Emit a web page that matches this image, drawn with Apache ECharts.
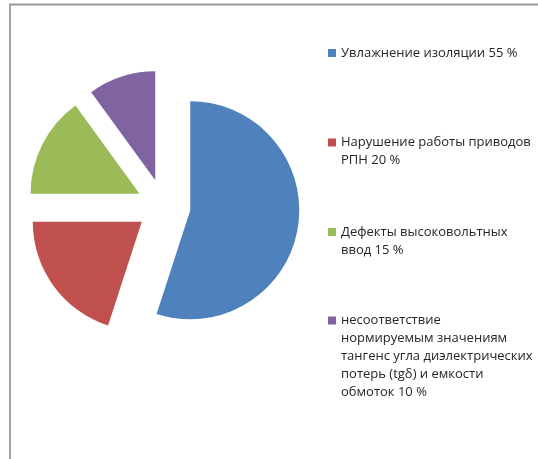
<!DOCTYPE html>
<html>
<head>
<meta charset="utf-8">
<script src="https://cdn.jsdelivr.net/npm/echarts@6/dist/echarts.min.js"></script>
<style>
html,body{margin:0;padding:0;background:#fff;}
#chart{width:538px;height:459px;}
</style>
</head>
<body>
<div id="chart"></div>
<script>
// Data
var categories = [
  'Увлажнение изоляции 55 %',
  'Нарушение работы приводов РПН 20 %',
  'Дефекты высоковольтных ввод 15 %',
  'несоответствие нормируемым значениям тангенс угла диэлектрических потерь (tgδ) и емкости обмоток 10 %'
];
var values = [55, 20, 15, 10];
var legendLines = [
  ['Увлажнение изоляции 55 %'],
  ['Нарушение работы приводов', 'РПН 20 %'],
  ['Дефекты высоковольтных', 'ввод 15 %'],
  ['несоответствие', 'нормируемым значениям', 'тангенс угла диэлектрических', 'потерь (tgδ) и емкости', 'обмоток 10 %']
];
var colors = ['#4F81BD', '#C0504D', '#9BBB59', '#8064A2'];

var LH = 18;
var iconCenters = [53, 142.5, 232, 320.5];
var FONT = '"Open Sans", sans-serif';

var chart = echarts.init(document.getElementById('chart'), null, {renderer: 'canvas'});

var legends = categories.map(function (name, i) {
  var n = legendLines[i].length;
  var H = n * LH;
  // square icon aligned with the first text line; tiny corner dots only set the icon box size
  var iconPath = 'path://M0,0h0.01v0.01h-0.01z M0,5h8v8h-8z M7.99,' + (H - 0.01) + 'h0.01v0.01h-0.01z';
  return {
    show: true,
    data: [name],
    orient: 'vertical',
    left: 328,
    top: iconCenters[i] - LH / 2,
    padding: 0,
    itemWidth: 8,
    itemHeight: H,
    itemGap: 0,
    icon: iconPath,
    symbolKeepAspect: false,
    selectedMode: false,
    formatter: function () { return legendLines[i].join('\n'); },
    textStyle: {
      fontFamily: FONT,
      fontSize: 13,
      color: '#262626',
      lineHeight: LH
    }
  };
});

var option = {
  animation: false,
  color: colors,
  legend: legends,
  graphic: [{
    type: 'polyline',
    shape: {points: [[10, 459], [10, 4.5], [538, 4.5]]},
    style: {stroke: '#999999', lineWidth: 1.8, fill: null},
    silent: true
  }],
  series: [{
    type: 'pie',
    center: [163.6, 206],
    radius: [0, 109],
    startAngle: 90,
    clockwise: true,
    selectedMode: 'multiple',
    selectedOffset: 27,
    silent: true,
    label: {show: false},
    labelLine: {show: false},
    emphasis: {disabled: true},
    itemStyle: {borderWidth: 0},
    data: categories.map(function (name, i) {
      return {name: name, value: values[i], selected: true};
    })
  }]
};
chart.setOption(option);
</script>
</body>
</html>
